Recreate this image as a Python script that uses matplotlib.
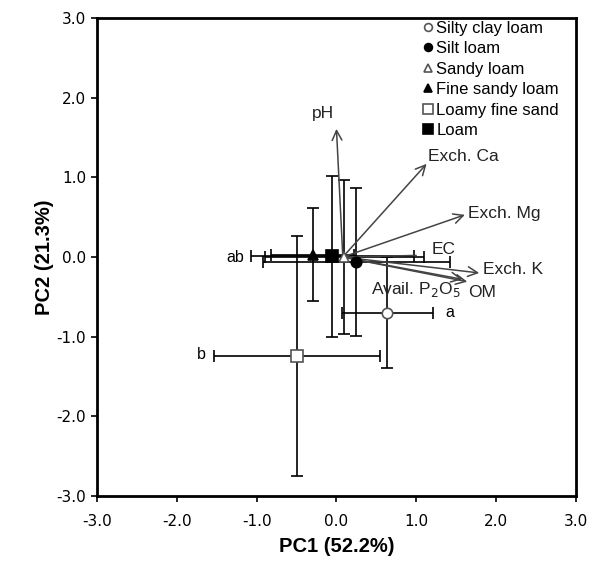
import numpy as np
import matplotlib
matplotlib.use("Agg")
import matplotlib.pyplot as plt

plt.rcParams['font.family'] = ['Liberation Sans', 'DejaVu Sans']

# soil texture groups: PC scores (mean) and error bars
textures = ['Silty clay loam', 'Silt loam', 'Sandy loam', 'Fine sandy loam', 'Loamy fine sand', 'Loam']
pc1 = [0.64, 0.25, 0.10, -0.30, -0.50, -0.05]
pc2 = [-0.70, -0.06, 0.00, 0.03, -1.24, 0.01]
pc1_err = [0.57, 1.17, 1.00, 0.52, 1.04, 1.02]
pc2_err = [0.70, 0.93, 0.97, 0.58, 1.51, 1.01]
markers = ['o', 'o', '^', '^', 's', 's']
filled = [False, True, False, True, False, True]

# letters (significance groups)
letters = ['a', 'ab', 'b']
letter_x = [1.37, -1.38, -1.75]
letter_y = [-0.70, 0.00, -1.22]

# loading vectors
variables = ['pH', 'Exch. Ca', 'Exch. Mg', 'EC', 'Exch. K', 'OM', 'Avail. P$_2$O$_5$']
load_x = [0.00, 1.13, 1.61, 1.00, 1.79, 1.64, 1.58]
load_y = [1.61, 1.17, 0.53, 0.02, -0.20, -0.31, -0.28]
lab_x = [-0.31, 1.15, 1.65, 1.19, 1.84, 1.65, 0.43]
lab_y = [1.80, 1.26, 0.55, 0.09, -0.16, -0.44, -0.41]
origin = (0.08, 0.0)

fig = plt.figure(figsize=(5.96, 5.68), dpi=100)
ax = fig.add_axes([0.163, 0.127, 0.803, 0.841])

for name, x, y, xe, ye, m, f in zip(textures, pc1, pc2, pc1_err, pc2_err, markers, filled):
    ms = 9 if m == 's' else 7.5
    ax.errorbar(x, y, xerr=xe, yerr=ye, fmt='none', ecolor='black', elinewidth=1.2,
                capsize=4, capthick=1.2, zorder=2)
    ax.plot(x, y, marker=m, linestyle='none', markersize=ms,
            markerfacecolor='black' if f else 'white',
            markeredgecolor='black' if f else '#555555', markeredgewidth=1.2,
            label=name, zorder=4)

for name, vx, vy, tx, ty in zip(variables, load_x, load_y, lab_x, lab_y):
    style = '-' if name == 'EC' else '->,head_length=0.7,head_width=0.35'
    ax.annotate('', xy=(vx, vy), xytext=origin,
                arrowprops=dict(arrowstyle=style, color='#444444', lw=1.1,
                                shrinkA=0, shrinkB=0), zorder=3)
    ax.text(tx, ty, name, fontsize=12.5, ha='left', va='center', color='#222222', zorder=5)

for t, x, y in zip(letters, letter_x, letter_y):
    ax.text(x, y, t, fontsize=11.5, ha='left', va='center')

ax.set_xlim(-3, 3)
ax.set_ylim(-3, 3)
ticks = np.arange(-3, 3.01, 1.0)
ax.set_xticks(ticks)
ax.set_yticks(ticks)
ax.set_xticklabels([f'{t:.1f}' for t in ticks], fontsize=11, family='DejaVu Sans')
ax.set_yticklabels([f'{t:.1f}' for t in ticks], fontsize=11, family='DejaVu Sans')
ax.tick_params(axis='x', direction='out', length=4, width=1.2, pad=9)
ax.tick_params(axis='y', direction='out', length=4, width=1.2, pad=4)
for sp in ax.spines.values():
    sp.set_linewidth(2)

ax.set_xlabel('PC1 (52.2%)', fontsize=14.5, fontweight='bold', labelpad=6)
ax.set_ylabel('PC2 (21.3%)', fontsize=14.5, fontweight='bold', labelpad=2)

leg = ax.legend(loc='upper left', bbox_to_anchor=(0.672, 0.998), frameon=False, fontsize=12,
                handletextpad=0.05, handlelength=0.9, labelspacing=0.33, borderaxespad=0,
                borderpad=0.1, markerscale=0.75)

fig.savefig('out.png', dpi=100)
